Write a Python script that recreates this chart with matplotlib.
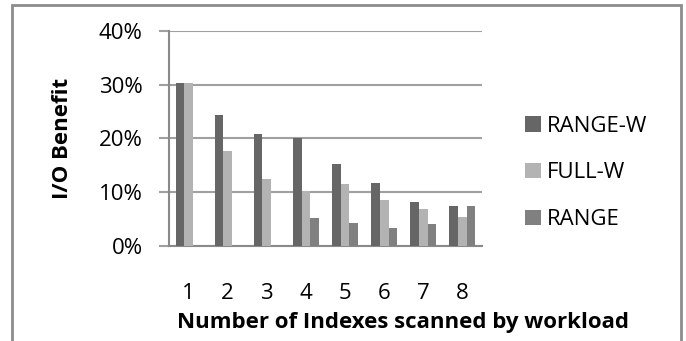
import matplotlib.pyplot as plt
import numpy as np
from matplotlib.patches import Rectangle
from matplotlib.ticker import PercentFormatter

categories = ["1", "2", "3", "4", "5", "6", "7", "8"]
series_names = ["RANGE-W", "FULL-W", "RANGE"]
range_w = [30.4, 24.4, 20.8, 20.0, 15.3, 11.8, 8.2, 7.5]
full_w = [30.4, 17.7, 12.5, 10.2, 11.5, 8.6, 6.9, 5.4]
range_ = [0.0, 0.0, 0.0, 5.2, 4.3, 3.3, 4.1, 7.5]
colors = ["#666666", "#b3b3b3", "#808080"]


def main():
    plt.rcParams["font.family"] = ["Open Sans", "DejaVu Sans"]
    fig = plt.figure(figsize=(6.86, 3.41), dpi=100)
    ax = fig.add_axes([0.2464, 0.2786, 0.4562, 0.6306])

    x = np.arange(len(categories))
    w = 0.222
    for i, (vals, name) in enumerate(zip([range_w, full_w, range_], series_names)):
        ax.bar(x + (i - 1) * w, vals, w, color=colors[i], label=name, zorder=3)

    ax.set_xlim(-0.5, len(categories) - 0.5)
    ax.set_ylim(0, 40)
    ax.set_yticks([0, 10, 20, 30, 40])
    ax.yaxis.set_major_formatter(PercentFormatter(decimals=0))
    ax.set_xticks(x)
    ax.set_xticklabels(categories)

    ax.grid(axis="y", color="#a0a0a0", linewidth=1.5, zorder=0)
    for s in ["top", "right"]:
        ax.spines[s].set_visible(False)
    for s in ["left", "bottom"]:
        ax.spines[s].set_color("#8a8a8a")
        ax.spines[s].set_linewidth(1.5)
    ax.tick_params(axis="y", length=7, width=1.5, color="#a0a0a0", labelsize=16, pad=12)
    ax.tick_params(axis="x", length=0, labelsize=16, pad=27)

    ax.set_ylabel("I/O Benefit", fontsize=16, fontweight="bold")
    ax.yaxis.set_label_coords(-0.339, 0.5)
    ax.set_xlabel("Number of Indexes scanned by workload", fontsize=16,
                  fontweight="bold")
    ax.xaxis.set_label_coords(0.748, -0.358)
    ax.xaxis.label.set_va("center")
    ax.yaxis.label.set_va("center")

    ax.legend(loc="center left", bbox_to_anchor=(1.075, 0.34), frameon=False,
              fontsize=16, handlelength=0.68, handleheight=0.68,
              handletextpad=0.3, labelspacing=1.15)

    fig.patches.append(Rectangle((12 / 686, -0.1), 669 / 686, 1.1 - 5 / 341,
                                 transform=fig.transFigure, fill=False,
                                 edgecolor="#8c8c8c", linewidth=2))

    fig.savefig("out.png", dpi=100)


if __name__ == "__main__":
    main()
